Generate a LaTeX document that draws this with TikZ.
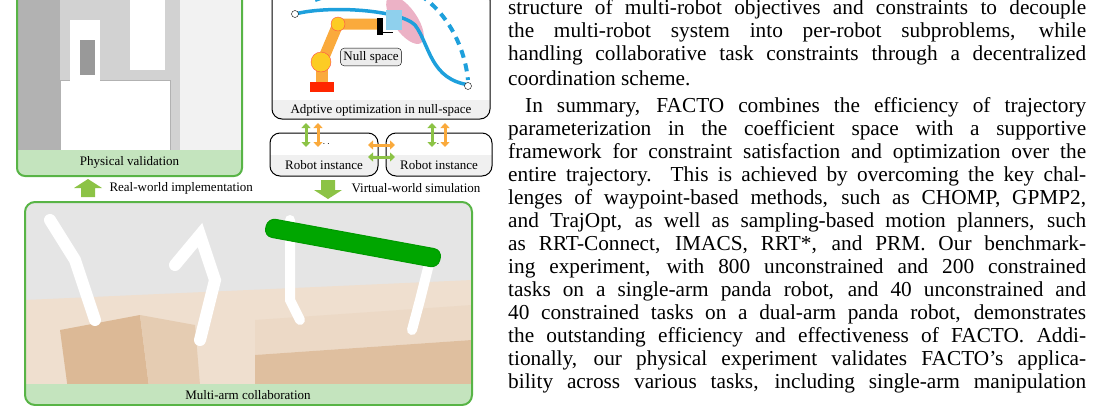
\documentclass[tikz,border=0pt]{standalone}
\usepackage{fontspec}
\setmainfont{Liberation Serif}
\usetikzlibrary{arrows.meta}
\definecolor{gbord}{RGB}{88,180,70}
\definecolor{gband}{RGB}{196,228,190}
\definecolor{sky}{RGB}{30,160,220}
\definecolor{orng}{RGB}{250,170,60}
\definecolor{lime}{RGB}{140,195,70}
\newlength\LW \setlength\LW{578pt}
\newcommand\jline[1]{\hbox to \LW{\spaceskip=.25em plus 1fil minus .12em\relax #1}}
\begin{document}
\begin{tikzpicture}[x=1pt,y=-1pt,
  lbl/.style={font=\fontsize{13}{13}\selectfont},
  txt/.style={anchor=west,inner sep=0,font=\fontsize{21.3}{22}\selectfont},
  dbl/.style={{Triangle[width=9pt,length=5pt]}-{Triangle[width=9pt,length=5pt]},line width=3pt},
  bigarr/.style={fill=lime,draw=none}]
\useasboundingbox (0,0) rectangle (1104,405);
% ---- physical validation
\begin{scope}
\clip[rounded corners=8pt] (17,-10) rectangle (242,176);
\fill[gray!35] (17,-10) rectangle (242,176);
\fill[gray!60] (17,-10) rectangle (60,150);
\fill[white!90!gray] (180,-10) rectangle (242,150);
\fill[white,draw=gray!60] (60,80) rectangle (170,150);
\fill[white] (70,20) rectangle (100,110);
\fill[white] (130,-10) rectangle (165,70);
\fill[gray!80] (80,40) rectangle (95,75);
\fill[gband] (17,150) rectangle (242,176);
\end{scope}
\draw[gbord,line width=2pt,rounded corners=8pt] (17,-10) rectangle (242,176);
\node[lbl] (pv) at (129.5,162) {Physical validation};
% ---- null space box
\begin{scope}
\clip[rounded corners=10pt] (272,-10) rectangle (490,119);
\fill[gray!12] (272,100) rectangle (490,119);
\end{scope}
\draw[line width=1pt,rounded corners=10pt] (272,-10) rectangle (490,119);
\node[lbl] (ao) at (381,110) {Adptive optimization in null-space};
\fill[purple!30,rotate around={-55:(405,20)}] (405,20) ellipse (28 and 12);
\draw[sky,line width=3.5pt] (295,14) .. controls (330,5) and (400,10) .. (415,25) .. controls (430,45) and (430,80) .. (470,85);
\draw[sky,line width=4pt,dash pattern=on 8pt off 6pt] (315,0) -- (330,-5);
\draw[sky,line width=4pt,dash pattern=on 8pt off 6pt] (420,-5) .. controls (450,15) and (465,50) .. (468,80);
\draw[fill=white] (295,14) circle (3.5);
\draw[fill=white] (468,86) circle (3.5);
\draw[orng,line width=11pt] (322,62) -- (338,24) -- (377,24);
\fill[black] (377,18) rectangle (383,35);
\draw[line width=1pt] (383,32) -- (393,32);
\fill[sky!50] (386,10) rectangle (402,30);
\fill[orng] (316,64) rectangle (328,82);
\draw[fill=orng!60!yellow,draw=red!70] (338,24) circle (7);
\draw[fill=orng!60!yellow,draw=red!70] (321,62) circle (10);
\fill[red!70!orange] (310,82) rectangle (334,92);
\node[draw,fill=gray!15,rounded corners=4pt,lbl,inner sep=3pt] (ns) at (371,57) {Null space};
% ---- robot instances
\begin{scope}
\clip[rounded corners=10pt] (270,133) rectangle (378,176);
\fill[gray!12] (270,155) rectangle (378,176);
\end{scope}
\draw[line width=1pt,rounded corners=10pt] (270,133) rectangle (378,176);
\node[lbl] (r1) at (324,165) {Robot instance};
\begin{scope}
\clip[rounded corners=10pt] (386,133) rectangle (492,176);
\fill[gray!12] (386,155) rectangle (492,176);
\end{scope}
\draw[line width=1pt,rounded corners=10pt] (386,133) rectangle (492,176);
\node[lbl] (r2) at (439,165) {Robot instance};
\node at (324,144) {$\cdots$};
\node at (438,144) {$\cdots$};
\draw[dbl,lime] (306,123) -- (306,147);
\draw[dbl,orng] (318,123) -- (318,147);
\draw[dbl,lime] (432,123) -- (432,147);
\draw[dbl,orng] (445,123) -- (445,147);
\draw[dbl,orng] (368,145) -- (395,145);
\draw[dbl,lime] (368,157) -- (395,157);
% ---- big arrows
\fill[bigarr] (74,188) -- (88,179) -- (102,188) -- (95,188) -- (95,197) -- (81,197) -- (81,188) -- cycle;
\node[lbl,anchor=west] (rw) at (106,188) {Real-world implementation};
\fill[bigarr] (314,190) -- (328,199) -- (342,190) -- (335,190) -- (335,180) -- (321,180) -- (321,190) -- cycle;
\node[lbl,anchor=west] (vw) at (348,188) {Virtual-world simulation};
% ---- multi-arm
\begin{scope}
\clip[rounded corners=10pt] (25,202) rectangle (472,405);
\fill[gray!20] (25,202) rectangle (472,405);
\fill[brown!25] (25,300) -- (472,280) -- (472,405) -- (25,405) -- cycle;
\fill[brown!55] (60,330) -- (140,315) -- (150,395) -- (70,405) -- cycle;
\fill[brown!40] (140,315) -- (195,325) -- (200,385) -- (150,395) -- cycle;
\fill[brown!30] (255,320) -- (472,305) -- (472,340) -- (255,355) -- cycle;
\fill[brown!50] (255,355) -- (472,340) -- (472,405) -- (255,405) -- cycle;
\draw[white,line width=12pt,line cap=round] (50,220) -- (75,260) -- (95,320);
\draw[white,line width=12pt,line cap=round] (175,265) -- (200,235) -- (215,280) -- (200,340);
\draw[white,line width=10pt,line cap=round] (290,220) -- (290,300) -- (300,320);
\draw[white,line width=10pt,line cap=round] (430,260) -- (420,300) -- (412,330);
\draw[green!60!black,fill=green!65!black,line width=1pt,rounded corners=8pt] (268,218) -- (442,250) -- (438,268) -- (264,236) -- cycle;
\fill[gband] (25,384) rectangle (472,405);
\end{scope}
\draw[gbord,line width=2pt,rounded corners=10pt] (25,202) rectangle (472,405);
\node[lbl] (mc) at (248,395) {Multi-arm collaboration};
% ---- text column
\node[txt] (t1) at (508,9) {\jline{structure of multi-robot objectives and constraints to decouple}};
\node[txt] (t2) at (508,32) {\jline{the multi-robot system into per-robot subproblems, while}};
\node[txt] (t3) at (508,55) {\jline{handling collaborative task constraints through a decentralized}};
\node[txt] (t4) at (508,78) {coordination scheme.};
\node[txt] (t5) at (508,107) {\jline{\hspace{17pt}In summary, FACTO combines the efficiency of trajectory}};
\node[txt] (t6) at (508,130) {\jline{parameterization in the coefficient space with a supportive}};
\node[txt] (t7) at (508,153) {\jline{framework for constraint satisfaction and optimization over the}};
\node[txt] (t8) at (508,176) {\jline{entire trajectory. This is achieved by overcoming the key chal-}};
\node[txt] (t9) at (508,199) {\jline{lenges of waypoint-based methods, such as CHOMP, GPMP2,}};
\node[txt] (t10) at (508,222) {\jline{and TrajOpt, as well as sampling-based motion planners, such}};
\node[txt] (t11) at (508,245) {\jline{as RRT-Connect, IMACS, RRT*, and PRM. Our benchmark-}};
\node[txt] (t12) at (508,268) {\jline{ing experiment, with 800 unconstrained and 200 constrained}};
\node[txt] (t13) at (508,291) {\jline{tasks on a single-arm panda robot, and 40 unconstrained and}};
\node[txt] (t14) at (508,314) {\jline{40 constrained tasks on a dual-arm panda robot, demonstrates}};
\node[txt] (t15) at (508,337) {\jline{the outstanding efficiency and effectiveness of FACTO. Addi-}};
\node[txt] (t16) at (508,360) {\jline{tionally, our physical experiment validates FACTO’s applica-}};
\node[txt] (t17) at (508,383) {\jline{bility across various tasks, including single-arm manipulation}};
\end{tikzpicture}
\end{document}
